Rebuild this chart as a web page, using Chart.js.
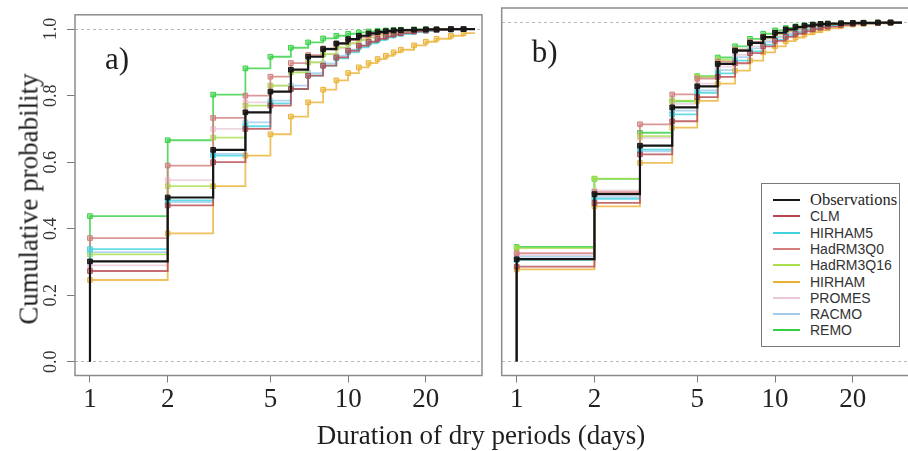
<!DOCTYPE html>
<html>
<head>
<meta charset="utf-8">
<script src="https://cdn.jsdelivr.net/npm/chart.js@4.4.1/dist/chart.umd.min.js"></script>
<style>
  body { margin: 0; width: 908px; height: 451px; overflow: hidden; position: relative; background: #fff; }
  canvas { position: absolute; top: 0; }
  #ca { left: 0; }
  #cb { left: 490px; }
  .serif { font-family: 'Liberation Serif', 'Times New Roman', serif; color: #1e1e1e; }
  #xtitle { position: absolute; left: 481px; top: 422px; font-size: 27px; line-height: 27px; white-space: nowrap; transform: translateX(-50%); }
  #ytitle { position: absolute; left: 29px; top: 199px; font-size: 27px; line-height: 27px; white-space: nowrap; transform: translate(-50%, -50%) rotate(-90deg); }
  #legend { position: absolute; left: 761px; top: 183px; width: 137px; height: 162px; border: 1.5px solid #7a7a7a; background: #fff; z-index: 2; }
  .item { position: absolute; left: 0; height: 16px; width: 137px; }
  .swatch { position: absolute; left: 11px; top: 7px; width: 27px; height: 2px; }
  .lbl { position: absolute; left: 48px; top: 0; line-height: 16px; white-space: nowrap; color: #333; }
  .sans { font-family: 'Liberation Sans', Arial, sans-serif; font-size: 14px; }
  .obs { font-family: 'Liberation Serif', 'Times New Roman', serif; font-size: 16.5px; color: #1e1e1e; }
</style>
</head>
<body>
<canvas id="ca" width="490" height="451"></canvas>
<canvas id="cb" width="430" height="451"></canvas>
<div id="ytitle" class="serif">Cumulative probability</div>
<div id="xtitle" class="serif">Duration of dry periods (days)</div>
<div id="legend"></div>
<script>
// durations (days) where the empirical CDFs step
const durations = [1, 2, 3, 4, 5, 6, 7, 8, 9, 10, 11, 12, 13, 14, 15, 16, 18, 20, 22, 25, 28];
const xEnd = 31;
const xTicks = [1, 2, 5, 10, 20];
const yTicks = [0, 0.2, 0.4, 0.6, 0.8, 1.0];

const seriesNames = ['Observations', 'CLM', 'HIRHAM5', 'HadRM3Q0', 'HadRM3Q16', 'HIRHAM', 'PROMES', 'RACMO', 'REMO'];
const seriesColors = ['#151515', '#b5474c', '#3fd3df', '#d27c7c', '#a9de4e', '#eab234', '#e9c9d9', '#9ecbec', '#35d043'];

// observations (same in both panels)
const obs = [.302, .494, .637, .750, .812, .878, .917, .940, .957, .970, .980, .987, .991, .994, .996, .997, .998, .999, .999, 1, 1];

// panel a) raw model output
const clmA      = [.273, .470, .600, .700, .770, .820, .860, .890, .915, .935, .950, .962, .971, .978, .984, .988, .993, .996, .998, .999, 1];
const hirham5A  = [.339, .485, .620, .708, .777, .820, .860, .890, .912, .930, .945, .957, .967, .975, .981, .986, .992, .995, .997, .999, 1];
const hadq0A    = [.372, .590, .733, .800, .857, .898, .922, .942, .956, .967, .975, .982, .987, .990, .993, .995, .997, .998, .999, 1, 1];
const hadq16A   = [.323, .528, .674, .770, .830, .870, .900, .925, .945, .958, .968, .976, .982, .986, .990, .993, .996, .998, .999, 1, 1];
const hirhamA   = [.246, .386, .528, .620, .684, .737, .780, .818, .846, .868, .885, .898, .910, .920, .930, .938, .951, .962, .971, .980, .988];
const promesA   = [.290, .546, .700, .780, .830, .870, .900, .924, .942, .956, .966, .974, .980, .985, .989, .992, .995, .997, .998, .999, 1];
const racmoA    = [.330, .480, .625, .720, .785, .830, .868, .897, .920, .938, .951, .962, .970, .977, .982, .986, .991, .995, .997, .999, 1];
const remoA     = [.438, .666, .803, .882, .917, .944, .960, .972, .980, .986, .990, .993, .995, .996, .997, .998, .999, 1, 1, 1, 1];

// panel b) corrected model output
const clmB      = [.280, .468, .611, .709, .780, .840, .880, .910, .930, .946, .958, .967, .974, .980, .985, .988, .993, .996, .998, .999, 1];
const hirham5B  = [.300, .480, .625, .729, .793, .850, .888, .915, .935, .950, .962, .971, .978, .983, .987, .990, .994, .997, .998, .999, 1];
const hadq0B    = [.320, .500, .700, .788, .835, .885, .920, .943, .958, .969, .977, .983, .987, .990, .993, .995, .997, .998, .999, 1, 1];
const hadq16B   = [.335, .540, .665, .770, .840, .890, .920, .940, .955, .966, .975, .981, .986, .990, .992, .994, .997, .998, .999, 1, 1];
const hirhamB   = [.272, .458, .586, .690, .769, .820, .858, .888, .912, .930, .945, .956, .965, .972, .978, .983, .990, .994, .996, .998, .999];
const promesB   = [.315, .505, .660, .760, .820, .870, .905, .930, .948, .960, .970, .977, .982, .986, .989, .992, .995, .997, .998, .999, 1];
const racmoB    = [.310, .485, .620, .740, .800, .860, .898, .924, .943, .957, .967, .975, .981, .985, .989, .992, .995, .997, .998, .999, 1];
const remoB     = [.338, .539, .675, .768, .842, .897, .930, .952, .967, .977, .984, .989, .992, .994, .996, .997, .998, .999, 1, 1, 1];

const seriesA = [obs, clmA, hirham5A, hadq0A, hadq16A, hirhamA, promesA, racmoA, remoA];
const seriesB = [obs, clmB, hirham5B, hadq0B, hadq16B, hirhamB, promesB, racmoB, remoB];

function withAlpha(hex, a) {
  const n = parseInt(hex.slice(1), 16);
  return 'rgba(' + (n >> 16) + ',' + ((n >> 8) & 255) + ',' + (n & 255) + ',' + a + ')';
}

// ecdf: start at 0 below the first step, extend the last level to the plot edge
function ecdfPoints(vals) {
  const pts = [{ x: durations[0], y: 0 }];
  durations.forEach((d, i) => pts.push({ x: d, y: vals[i] }));
  pts.push({ x: xEnd, y: vals[vals.length - 1] });
  return pts;
}

function makeDatasets(series) {
  return series.map((vals, i) => {
    const last = vals.length + 1;
    const isObs = i === 0;
    return {
      label: seriesNames[i],
      data: ecdfPoints(vals),
      stepped: true,
      borderColor: isObs ? seriesColors[i] : withAlpha(seriesColors[i], 0.8),
      borderWidth: isObs ? 2.2 : 1.8,
      pointStyle: 'rect',
      pointRadius: ctx => (ctx.dataIndex === 0 || ctx.dataIndex === last) ? 0 : 3.3,
      pointBorderWidth: 1,
      pointBorderColor: seriesColors[i],
      pointBackgroundColor: withAlpha(seriesColors[i], isObs ? 0.8 : 0.45),
      fill: false
    };
  });
}

const panelFrame = {
  id: 'panelFrame',
  afterDatasetsDraw(chart, args, opts) {
    const { ctx, chartArea: a } = chart;
    ctx.save();
    ctx.strokeStyle = '#8c8c8c';
    ctx.lineWidth = 1.5;
    ctx.strokeRect(a.left, a.top, a.right - a.left, a.bottom - a.top);
    ctx.fillStyle = '#1e1e1e';
    ctx.font = '31px "Liberation Serif"';
    ctx.textBaseline = 'alphabetic';
    ctx.fillText(opts.label, a.left + opts.dx, a.top + 54);
    ctx.restore();
  }
};

function buildChart(canvasId, series, label, showY, yWidth, rightPad) {
  const refLine = c => (c.tick && (c.tick.value === 0 || c.tick.value === 1)) ? '#b8b8b8' : 'transparent';
  return new Chart(document.getElementById(canvasId), {
    type: 'line',
    data: { datasets: makeDatasets(series) },
    plugins: [panelFrame],
    options: {
      responsive: false,
      animation: false,
      layout: { padding: { top: 8, right: rightPad, left: 0, bottom: 0 } },
      plugins: {
        legend: { display: false },
        tooltip: { enabled: false },
        panelFrame: { label: label, dx: 30 }
      },
      scales: {
        x: {
          type: 'logarithmic',
          min: 0.875,
          max: 33,
          afterBuildTicks: s => { s.ticks = xTicks.map(v => ({ value: v })); },
          afterFit: s => { s.height = 75.5; },
          grid: { drawOnChartArea: false, tickColor: '#7a7a7a', tickLength: 7 },
          border: { display: false },
          ticks: {
            autoSkip: false, maxRotation: 0, minRotation: 0, padding: 1, color: '#222',
            font: { family: 'Liberation Serif', size: 27 },
            callback: v => String(v)
          }
        },
        y: {
          type: 'linear',
          min: -0.041,
          max: 1.043,
          afterBuildTicks: s => { s.ticks = yTicks.map(v => ({ value: v })); },
          afterFit: s => { s.width = yWidth; },
          grid: { color: refLine, lineWidth: 1, drawTicks: showY, tickColor: '#7a7a7a', tickLength: 8 },
          border: { display: false, dash: [3, 3] },
          ticks: {
            display: showY, minRotation: 90, maxRotation: 90, crossAlign: 'center', padding: 4,
            color: '#333', font: { family: 'Liberation Serif', size: 18 },
            callback: v => v.toFixed(1)
          }
        }
      }
    }
  });
}

buildChart('ca', seriesA, 'a)', true, 75, 8);
buildChart('cb', seriesB, 'b)', false, 11.7, 11);

// legend from the series names and colours
const legend = document.getElementById('legend');
seriesNames.forEach((name, i) => {
  const item = document.createElement('div');
  item.className = 'item';
  item.style.top = (8 + i * 16.3) + 'px';
  const sw = document.createElement('div');
  sw.className = 'swatch';
  sw.style.background = seriesColors[i];
  const t = document.createElement('div');
  t.className = 'lbl ' + (i === 0 ? 'obs' : 'sans');
  t.textContent = name;
  item.appendChild(sw);
  item.appendChild(t);
  legend.appendChild(item);
});
</script>
</body>
</html>
